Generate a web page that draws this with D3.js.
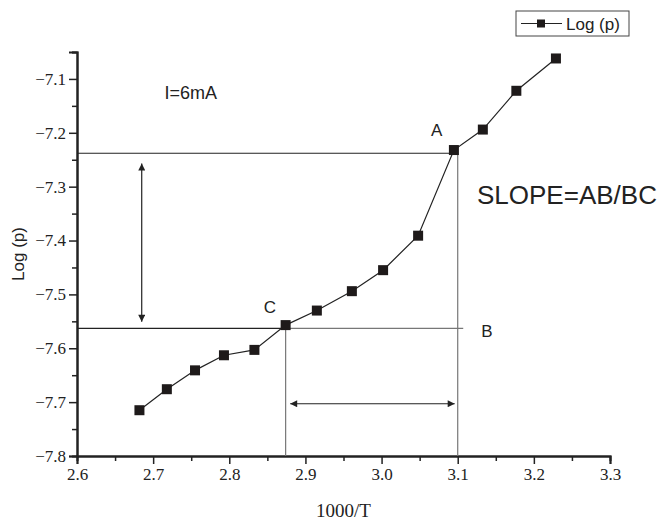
<!DOCTYPE html>
<html>
<head>
<meta charset="utf-8">
<script src="https://cdn.jsdelivr.net/npm/d3@7"></script>
<style>
    body { margin: 0; background: #fff; }
    .sans { font-family: "Liberation Sans", Arial, sans-serif; fill: #222; }
</style>
</head>
<body>
<script>
"use strict";

// 1000/T values
var invTemp = [2.682, 2.718, 2.755, 2.793, 2.833, 2.874, 2.915, 2.961, 3.002, 3.048, 3.095, 3.133, 3.177, 3.229];
// Log (p) values
var logP = [-7.715, -7.676, -7.641, -7.613, -7.603, -7.557, -7.530, -7.494, -7.455, -7.391, -7.232, -7.194, -7.122, -7.062];

var xTicks = [2.6, 2.7, 2.8, 2.9, 3.0, 3.1, 3.2, 3.3];
var xMinor = [2.65, 2.75, 2.85, 2.95, 3.05, 3.15, 3.25];
var yTicks = [-7.8, -7.7, -7.6, -7.5, -7.4, -7.3, -7.2, -7.1];
var yMinor = [-7.75, -7.65, -7.55, -7.45, -7.35, -7.25, -7.15, -7.05];

// construction lines for the slope
var levelA = -7.238;
var levelC = -7.563;
var xA = 3.1;
var xC = 2.874;
var xB = 3.102;
var vArrow = { x: 2.685, y1: -7.257, y2: -7.551 };
var hArrow = { y: -7.703, x1: 2.88, x2: 3.096 };

var width = 660;
var height = 525;
var margin = { top: 52, right: 50, bottom: 69, left: 77 };
var serif = "Liberation Serif, Times New Roman, serif";

var svg = d3.select("body").append("svg")
    .attr("width", width)
    .attr("height", height);

var x = d3.scaleLinear().domain([2.6, 3.3]).range([margin.left, width - margin.right]);
var y = d3.scaleLinear().domain([-7.8, -7.05]).range([height - margin.bottom, margin.top]);

var defs = svg.append("defs");
defs.append("marker")
    .attr("id", "arrow")
    .attr("viewBox", "0 0 10 10")
    .attr("refX", 10)
    .attr("refY", 5)
    .attr("markerWidth", 14)
    .attr("markerHeight", 7)
    .attr("markerUnits", "userSpaceOnUse")
    .attr("orient", "auto-start-reverse")
    .append("path")
    .attr("d", "M0,0 L10,5 L0,10 Z")
    .attr("fill", "#222");

// axes
var fmt = d3.format(".1f");
svg.append("g")
    .attr("transform", "translate(0," + y.range()[0] + ")")
    .call(d3.axisBottom(x).tickValues(xTicks).tickFormat(fmt).tickSizeOuter(0).tickSize(8).tickPadding(4))
    .attr("font-family", serif)
    .attr("font-size", 17);
svg.append("g")
    .attr("transform", "translate(0," + y.range()[0] + ")")
    .call(d3.axisBottom(x).tickValues(xMinor).tickFormat("").tickSizeOuter(0).tickSize(5));
svg.append("g")
    .attr("transform", "translate(" + x.range()[0] + ",0)")
    .call(d3.axisLeft(y).tickValues(yTicks).tickFormat(fmt).tickSizeOuter(0).tickSize(8).tickPadding(3))
    .attr("font-family", serif)
    .attr("font-size", 17);
svg.append("g")
    .attr("transform", "translate(" + x.range()[0] + ",0)")
    .call(d3.axisLeft(y).tickValues(yMinor).tickFormat("").tickSizeOuter(0).tickSize(5));

svg.selectAll(".domain").attr("stroke", "#222").attr("stroke-width", 2);
svg.selectAll(".tick line").attr("stroke", "#222").attr("stroke-width", 1.5);
svg.selectAll(".tick text").attr("fill", "#222");

// construction lines
var guides = svg.append("g").attr("fill", "none");
guides.append("line")
    .attr("x1", x(2.6)).attr("x2", x(xA))
    .attr("y1", y(levelA)).attr("y2", y(levelA))
    .attr("stroke", "#222").attr("stroke-width", 1.2);
guides.append("line")
    .attr("x1", x(2.6)).attr("x2", x(xC))
    .attr("y1", y(levelC)).attr("y2", y(levelC))
    .attr("stroke", "#222").attr("stroke-width", 1.2);
guides.append("line")
    .attr("x1", x(xC)).attr("x2", x(xB) + 4)
    .attr("y1", y(levelC)).attr("y2", y(levelC))
    .attr("stroke", "#777").attr("stroke-width", 1.2);
guides.append("line")
    .attr("x1", x(xC)).attr("x2", x(xC))
    .attr("y1", y(levelC)).attr("y2", y(-7.8))
    .attr("stroke", "#777").attr("stroke-width", 1.2);
guides.append("line")
    .attr("x1", x(xA)).attr("x2", x(xA))
    .attr("y1", y(levelA)).attr("y2", y(-7.8))
    .attr("stroke", "#777").attr("stroke-width", 1.2);

// double arrows
guides.append("line")
    .attr("x1", x(vArrow.x)).attr("x2", x(vArrow.x))
    .attr("y1", y(vArrow.y1)).attr("y2", y(vArrow.y2))
    .attr("stroke", "#222").attr("stroke-width", 1.2)
    .attr("marker-start", "url(#arrow)")
    .attr("marker-end", "url(#arrow)");
guides.append("line")
    .attr("x1", x(hArrow.x1)).attr("x2", x(hArrow.x2))
    .attr("y1", y(hArrow.y)).attr("y2", y(hArrow.y))
    .attr("stroke", "#222").attr("stroke-width", 1.2)
    .attr("marker-start", "url(#arrow)")
    .attr("marker-end", "url(#arrow)");

// data series
var points = invTemp.map(function(d, i) { return { x: d, y: logP[i] }; });
var line = d3.line()
    .x(function(d) { return x(d.x); })
    .y(function(d) { return y(d.y); });
svg.append("path")
    .datum(points)
    .attr("d", line)
    .attr("fill", "none")
    .attr("stroke", "#222")
    .attr("stroke-width", 1.2);

var markSize = 10;
svg.append("g")
    .selectAll("rect")
    .data(points)
    .enter()
    .append("rect")
    .attr("x", function(d) { return x(d.x) - markSize / 2; })
    .attr("y", function(d) { return y(d.y) - markSize / 2; })
    .attr("width", markSize)
    .attr("height", markSize)
    .attr("fill", "#1e1a1a");

// labels
svg.append("text").attr("class", "sans")
    .attr("x", x(2.715)).attr("y", 99)
    .attr("font-size", 18)
    .text("I=6mA");
svg.append("text").attr("class", "sans")
    .attr("x", x(invTemp[10]) - 23).attr("y", y(logP[10]) - 14)
    .attr("font-size", 17)
    .text("A");
svg.append("text").attr("class", "sans")
    .attr("x", x(invTemp[5]) - 22).attr("y", y(logP[5]) - 12)
    .attr("font-size", 17)
    .text("C");
svg.append("text").attr("class", "sans")
    .attr("x", x(xB) + 22).attr("y", y(levelC) + 9)
    .attr("font-size", 17)
    .text("B");
svg.append("text").attr("class", "sans")
    .attr("x", 477).attr("y", 204)
    .attr("font-size", 26)
    .text("SLOPE=AB/BC");

// axis titles
svg.append("text").attr("class", "sans")
    .attr("transform", "translate(24," + ((margin.top + height - margin.bottom) / 2) + ") rotate(-90)")
    .attr("text-anchor", "middle")
    .attr("font-size", 17)
    .text("Log (p)");
svg.append("text")
    .attr("x", (x.range()[0] + x.range()[1]) / 2)
    .attr("y", 517)
    .attr("text-anchor", "middle")
    .attr("font-family", serif)
    .attr("font-size", 19)
    .attr("fill", "#222")
    .text("1000/T");

// legend
var legend = svg.append("g").attr("transform", "translate(516,11)");
legend.append("rect")
    .attr("width", 113).attr("height", 25)
    .attr("fill", "#fff").attr("stroke", "#444").attr("stroke-width", 1);
legend.append("line")
    .attr("x1", 5).attr("x2", 46).attr("y1", 12.5).attr("y2", 12.5)
    .attr("stroke", "#222").attr("stroke-width", 1.2);
legend.append("rect")
    .attr("x", 21).attr("y", 8.5).attr("width", 8).attr("height", 8)
    .attr("fill", "#1e1a1a");
legend.append("text").attr("class", "sans")
    .attr("x", 50).attr("y", 19)
    .attr("font-size", 17)
    .text("Log (p)");
</script>
</body>
</html>
